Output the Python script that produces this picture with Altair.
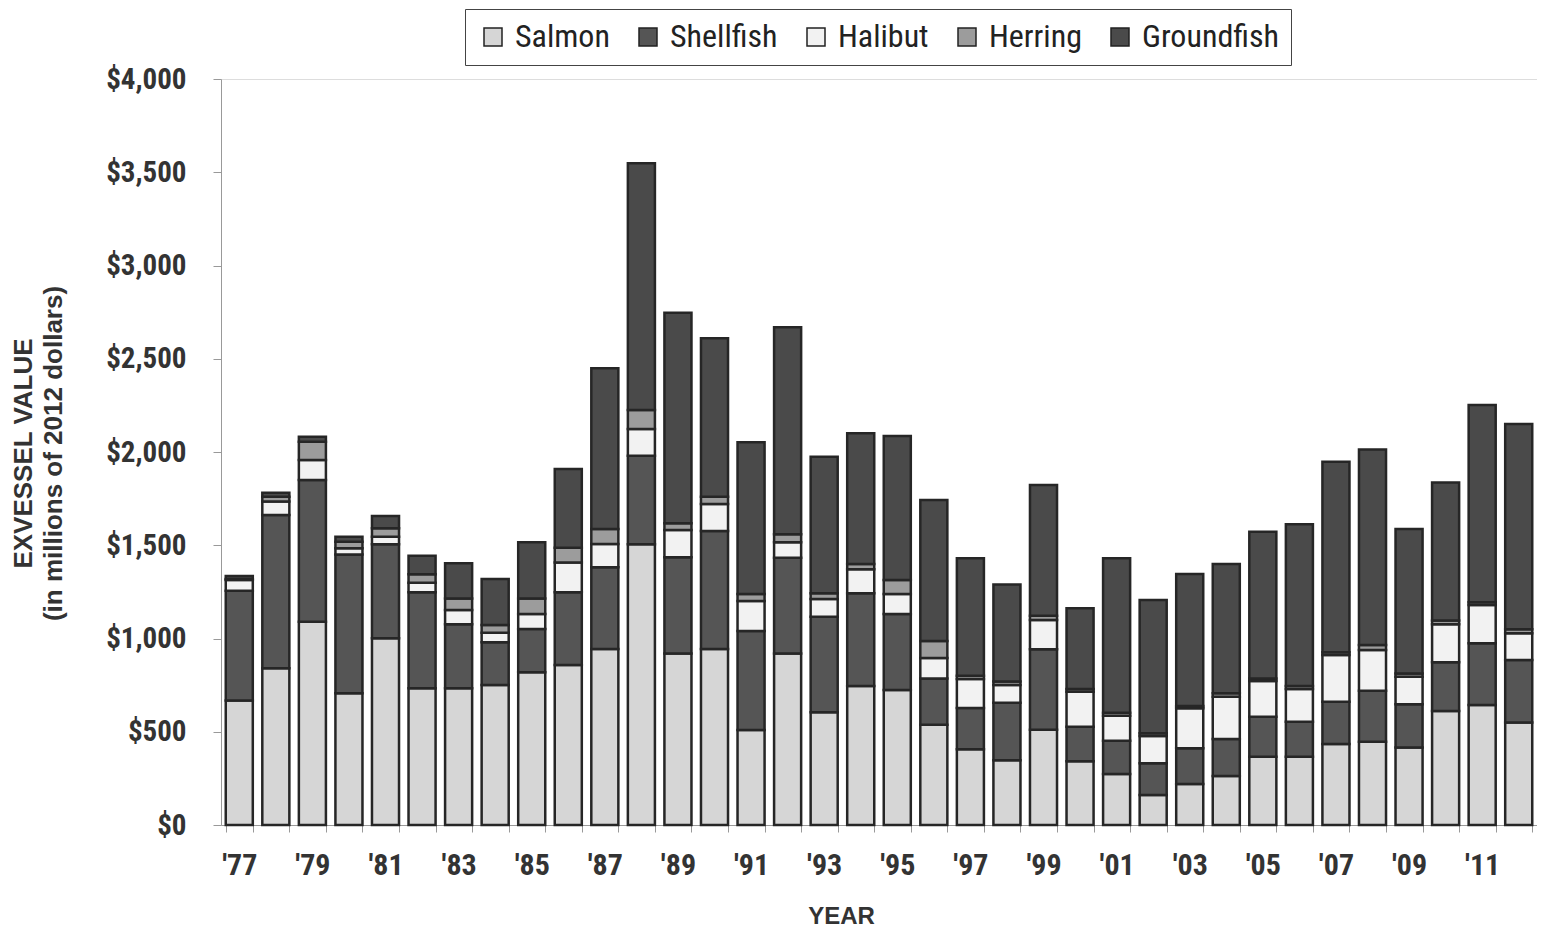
import altair as alt
import pandas as pd

years = list(range(1977, 2013))
species = ["Salmon", "Shellfish", "Halibut", "Herring", "Groundfish"]
colors = ["#d6d6d6", "#555555", "#f2f2f2", "#9c9c9c", "#4a4a4a"]

salmon = [667, 840, 1090, 706, 1001, 733, 733, 751, 819, 858, 944, 1505, 920, 944, 509, 920,
          604, 745, 724, 538, 406, 347, 511, 342, 273, 161, 220, 263, 366, 366, 434, 447,
          416, 611, 643, 549]
shellfish = [589, 822, 760, 745, 504, 515, 343, 229, 232, 390, 438, 475, 515, 632, 531, 513,
             513, 497, 407, 248, 222, 308, 432, 185, 179, 170, 191, 198, 215, 188, 227, 273,
             231, 261, 331, 336]
halibut = [58, 72, 107, 33, 41, 51, 77, 51, 80, 159, 125, 143, 147, 145, 161, 83,
           95, 129, 108, 109, 155, 96, 156, 188, 134, 146, 215, 227, 191, 175, 251, 218,
           148, 204, 206, 143]
herring = [5, 26, 98, 35, 45, 45, 62, 41, 84, 80, 80, 102, 36, 39, 38, 43,
           30, 28, 75, 92, 17, 19, 23, 14, 16, 15, 12, 18, 14, 16, 14, 27,
           18, 20, 14, 21]
groundfish = [16, 22, 27, 27, 66, 100, 188, 247, 301, 422, 862, 1323, 1129, 850, 813, 1110,
              733, 701, 772, 756, 630, 520, 701, 433, 828, 714, 708, 693, 787, 867, 1022, 1049,
              774, 740, 1058, 1101]

series = [salmon, shellfish, halibut, herring, groundfish]
rows = []
for idx, (name, vals) in enumerate(zip(species, series)):
    for yr, v in zip(years, vals):
        rows.append({"year": yr, "species": name, "value": v, "idx": idx})
df = pd.DataFrame(rows)

narrow = "Liberation Sans Narrow, Arial Narrow, Roboto Condensed, Liberation Sans, sans-serif"
bold = "Liberation Sans, Arial, sans-serif"

chart = alt.Chart(df).mark_bar(stroke="#262626", strokeWidth=2.5).encode(
    x=alt.X(
        "year:O",
        scale=alt.Scale(paddingInner=0.26, paddingOuter=0.13),
        axis=alt.Axis(
            title="YEAR",
            labelExpr="datum.value % 2 == 1 ? \"'\" + substring(datum.label, 2, 4) : ''",
            labelAngle=0,
            tickBand="extent",
            tickSize=7,
            tickColor="#999999",
            domainColor="#999999",
            labelFont=narrow,
            labelFontSize=30,
            labelFontWeight="bold",
            labelColor="#333333",
            labelPadding=18,
            titleFont=bold,
            titleFontSize=24,
            titleFontWeight="bold",
            titleColor="#333333",
            titleX=620,
            titleY=98,
            titleAlign="center",
            titleBaseline="alphabetic",
        ),
    ),
    y=alt.Y(
        "value:Q",
        stack="zero",
        scale=alt.Scale(domain=[0, 4000], nice=False),
        axis=alt.Axis(
            values=list(range(0, 4001, 500)),
            format="$,.0f",
            grid=False,
            tickSize=8,
            tickColor="#999999",
            domainColor="#999999",
            labelFont=narrow,
            labelFontSize=29,
            labelFontWeight="bold",
            labelColor="#333333",
            labelPadding=27,
            title=["EXVESSEL VALUE", "(in millions of 2012 dollars)"],
            titleFont=bold,
            titleFontSize=26,
            titleFontWeight="bold",
            titleColor="#333333",
            titleLineHeight=30,
            titleX=-190,
            titleY=374,
            titleAlign="center",
            titleBaseline="alphabetic",
        ),
    ),
    color=alt.Color(
        "species:N",
        scale=alt.Scale(domain=species, range=colors),
        legend=alt.Legend(
            title=None,
            orient="none",
            legendX=244,
            legendY=-70,
            direction="horizontal",
            strokeColor="#444444",
            fillColor="white",
            padding=12,
            symbolType="square",
            symbolSize=324,
            symbolStrokeColor="#222222",
            symbolStrokeWidth=1.5,
            labelFont=narrow,
            labelFontSize=32,
            labelColor="#222222",
            labelOffset=6,
            columnPadding=22,
        ),
    ),
    order=alt.Order("idx:Q", sort="ascending"),
).properties(
    width=1316,
    height=746,
    autosize=alt.AutoSizeParams(type="none"),
    padding={"left": 213, "top": 71, "right": 0, "bottom": 107},
).configure_view(stroke=None).configure(background="white")

chart.save("out.html", embed_options={"renderer": "svg", "actions": False})
